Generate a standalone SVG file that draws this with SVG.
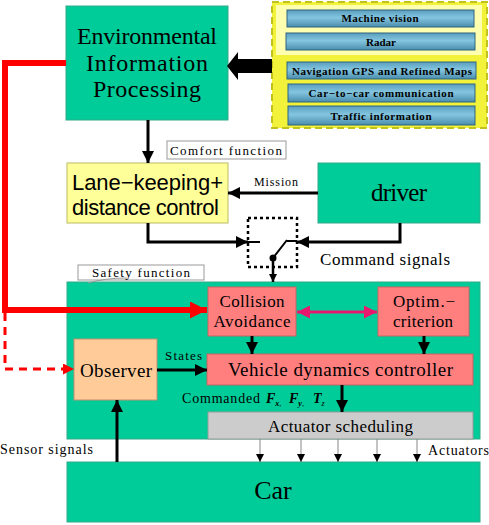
<svg xmlns="http://www.w3.org/2000/svg" width="489" height="525" viewBox="0 0 489 525">
<defs>
<linearGradient id="bar" x1="0" y1="0" x2="0" y2="1">
<stop offset="0" stop-color="#5A9EBE"/>
<stop offset="0.45" stop-color="#84C6E0"/>
<stop offset="1" stop-color="#4A8DAD"/>
</linearGradient>
<marker id="ah" viewBox="0 0 10 10" refX="10" refY="5" markerWidth="13" markerHeight="12" markerUnits="userSpaceOnUse" orient="auto"><path d="M0,0 L10,5 L0,10 Z" fill="#000"/></marker>
<marker id="ahs" viewBox="0 0 10 10" refX="10" refY="5" markerWidth="9" markerHeight="8" markerUnits="userSpaceOnUse" orient="auto"><path d="M0,0 L10,5 L0,10 Z" fill="#000"/></marker>
<marker id="ahr" viewBox="0 0 10 10" refX="10" refY="5" markerWidth="25" markerHeight="17" markerUnits="userSpaceOnUse" orient="auto"><path d="M0,0 L10,5 L0,10 Z" fill="#FF0000"/></marker>
<marker id="ahrd" viewBox="0 0 10 10" refX="10" refY="5" markerWidth="16" markerHeight="11" markerUnits="userSpaceOnUse" orient="auto"><path d="M0,0 L10,5 L0,10 Z" fill="#FF0000"/></marker>
<marker id="ahp" viewBox="0 0 10 10" refX="10" refY="5" markerWidth="13" markerHeight="13" markerUnits="userSpaceOnUse" orient="auto-start-reverse"><path d="M0,0 L10,5 L0,10 Z" fill="#E8186E"/></marker>
</defs>
<style>
.serif{font-family:"Liberation Serif","Times New Roman",serif;fill:#000}
.sans{font-family:"Liberation Sans",Arial,sans-serif;fill:#000}
.green{fill:#00CC99;stroke:#33AA88;stroke-width:1}
.red{fill:#FF7F7F;stroke:#C86464;stroke-width:1}
.barr{fill:url(#bar);stroke:#2F6580;stroke-width:1}
.bt{font-family:"Liberation Serif","Times New Roman",serif;font-weight:bold;font-size:11px;fill:#000;text-anchor:middle}
.conn{fill:none;stroke:#000;stroke-width:3}
.lbl{fill:#fff;stroke:#999;stroke-width:1}
</style>

<g id="safety-area"><rect x="67" y="282" width="413" height="157" class="green"/></g>

<g id="env">
<rect x="66" y="6" width="162" height="114" class="green"/>
<text class="serif" font-size="24" text-anchor="middle"><tspan x="147" y="44" textLength="140">Environmental</tspan><tspan x="147" y="71" textLength="122">Information</tspan><tspan x="147" y="97" textLength="108">Processing</tspan></text>
</g>

<g id="sensors">
<rect x="272" y="2" width="215" height="126" fill="#F2F23A" stroke="#C2C21E" stroke-width="2" stroke-dasharray="7,4"/>
<rect x="276" y="5" width="206" height="50" fill="#FFFFB0"/>
<rect x="287" y="10" width="187" height="17" class="barr"/>
<text class="bt" x="380" y="22" textLength="77">Machine vision</text>
<rect x="286" y="33" width="189" height="17" class="barr"/>
<text class="bt" x="381" y="46">Radar</text>
<rect x="287" y="62" width="189" height="17" class="barr"/>
<text class="bt" x="382" y="75" textLength="180">Navigation GPS and Refined Maps</text>
<rect x="288" y="84" width="187" height="18" class="barr"/>
<text class="bt" x="381" y="97" textLength="145">Car−to−car  communication</text>
<rect x="288" y="106" width="187" height="19" class="barr"/>
<text class="bt" x="381" y="120" textLength="101">Traffic information</text>
</g>

<g id="lane">
<rect x="67" y="163" width="161" height="60" fill="#FFFF99" stroke="#BBBB66" stroke-width="1"/>
<text class="sans" font-size="22"><tspan x="72" y="190" textLength="151">Lane−keeping+</tspan><tspan x="72" y="215" textLength="147">distance control</tspan></text>
</g>

<g id="comfort-label">
<rect x="167" y="141" width="119" height="18" class="lbl"/>
<text class="serif" font-size="13" x="170" y="155" textLength="112">Comfort function</text>
</g>

<g id="driver">
<rect x="318" y="163" width="162" height="60" class="green"/>
<text class="serif" font-size="25" x="399" y="201" text-anchor="middle" textLength="56">driver</text>
</g>

<g id="switch">
<rect x="248" y="218" width="49" height="49" fill="none" stroke="#000" stroke-width="2.5" stroke-dasharray="3,3"/>
<line x1="248" y1="242" x2="260" y2="242" stroke="#000" stroke-width="2"/>
<line x1="287" y1="241" x2="297" y2="241" stroke="#000" stroke-width="2"/>
<line x1="273" y1="258" x2="287" y2="240" stroke="#000" stroke-width="2"/>
<circle cx="273" cy="258" r="3.5" fill="#000"/>
</g>

<g id="safety-label">
<rect x="78" y="265" width="126" height="15" class="lbl"/>
<text class="serif" font-size="13" x="92" y="277" textLength="98">Safety function</text>
<path d="M88,283 Q105,278 127,278" fill="none" stroke="#999" stroke-width="1"/>
</g>

<g id="collision">
<rect x="208" y="287" width="88" height="49" class="red"/>
<text class="serif" font-size="17" text-anchor="middle"><tspan x="252" y="307" textLength="65">Collision</tspan><tspan x="252" y="327" textLength="77">Avoidance</tspan></text>
</g>

<g id="optim">
<rect x="378" y="287" width="91" height="49" class="red"/>
<text class="serif" font-size="17" text-anchor="middle"><tspan x="424" y="307" textLength="62">Optim.−</tspan><tspan x="423" y="327" textLength="60">criterion</tspan></text>
</g>

<g id="vdc">
<rect x="207" y="354" width="266" height="31" class="red"/>
<text class="serif" font-size="19" x="228" y="376" textLength="225">Vehicle dynamics controller</text>
</g>

<g id="observer">
<rect x="74" y="339" width="83" height="61" fill="#FFCC99" stroke="#C09070" stroke-width="1"/>
<text class="serif" font-size="19" x="80" y="377" textLength="72">Observer</text>
</g>

<g id="actuator">
<rect x="208" y="412" width="265" height="27" fill="#CCCCCC" stroke="#999" stroke-width="1"/>
<text class="serif" font-size="17" x="268" y="432" textLength="145">Actuator scheduling</text>
</g>

<g id="car">
<rect x="67" y="462" width="413" height="60" class="green"/>
<text class="serif" font-size="26" x="273" y="499" text-anchor="middle">Car</text>
</g>

<g id="connectors">
<path d="M272,59 L238,59 L238,52 L227,66 L238,80 L238,73 L272,73 Z" fill="#000"/>
<line x1="148" y1="120" x2="148" y2="163" class="conn" marker-end="url(#ah)"/>
<line x1="318" y1="193" x2="228" y2="193" class="conn" marker-end="url(#ah)"/>
<text class="serif" font-size="12" x="254" y="186" textLength="44">Mission</text>
<polyline points="148,223 148,242 248,242" class="conn" marker-end="url(#ah)"/>
<polyline points="400,223 400,242 297,242" class="conn" marker-end="url(#ah)"/>
<line x1="273" y1="258" x2="273" y2="282" stroke="#000" stroke-width="2.5" marker-end="url(#ahs)"/>
<text class="serif" font-size="17" x="320" y="265" textLength="130">Command signals</text>
<polyline points="66,63 5,63 5,310 207,310" fill="none" stroke="#FF0000" stroke-width="6" stroke-linejoin="miter" marker-end="url(#ahr)"/>
<polyline points="5,313 5,369 74,369" fill="none" stroke="#FF0000" stroke-width="3" stroke-dasharray="8,6" marker-end="url(#ahrd)"/>
<line x1="297" y1="312" x2="377" y2="312" stroke="#E8186E" stroke-width="3" marker-start="url(#ahp)" marker-end="url(#ahp)"/>
<line x1="252" y1="336" x2="252" y2="354" class="conn" marker-end="url(#ah)"/>
<line x1="424" y1="336" x2="424" y2="354" class="conn" marker-end="url(#ah)"/>
<line x1="157" y1="370" x2="207" y2="370" class="conn" marker-end="url(#ah)"/>
<text class="serif" font-size="13" x="165" y="360" textLength="37">States</text>
<line x1="342" y1="385" x2="342" y2="412" class="conn" marker-end="url(#ah)"/>
<text class="serif" font-size="14" y="403"><tspan x="182" textLength="78">Commanded</tspan><tspan x="266" font-weight="bold" font-style="italic">F</tspan><tspan font-size="8" dy="3" font-weight="bold" font-style="italic">x</tspan><tspan font-size="8">,</tspan><tspan x="289" dy="-3" font-weight="bold" font-style="italic">F</tspan><tspan font-size="8" dy="3" font-weight="bold" font-style="italic">y</tspan><tspan font-size="8">,</tspan><tspan x="313" dy="-3" font-weight="bold" font-style="italic">T</tspan><tspan font-size="8" dy="3" font-style="italic">z</tspan></text>
<line x1="117" y1="462" x2="117" y2="400" class="conn" marker-end="url(#ah)"/>
<text class="serif" font-size="14" x="0" y="454" textLength="93">Sensor signals</text>
<g stroke="#888" stroke-width="1" marker-end="url(#ahs)">
<line x1="260" y1="439" x2="260" y2="462"/>
<line x1="301" y1="439" x2="301" y2="462"/>
<line x1="338" y1="439" x2="338" y2="462"/>
<line x1="377" y1="439" x2="377" y2="462"/>
<line x1="417" y1="439" x2="417" y2="462"/>
</g>
<text class="serif" font-size="14" x="428" y="455" textLength="61">Actuators</text>
</g>
</svg>
